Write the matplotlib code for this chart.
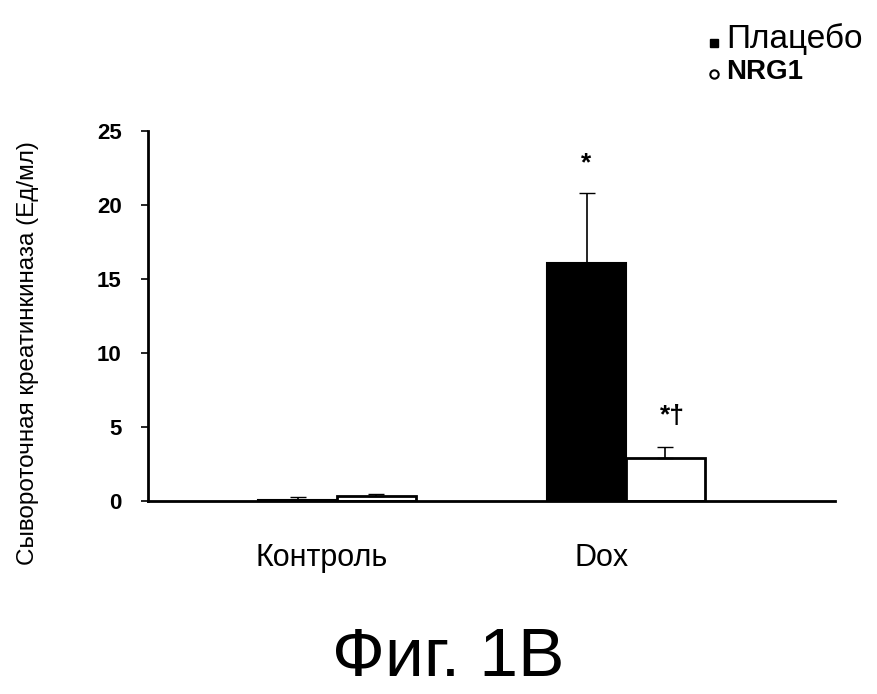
import matplotlib.pyplot as plt
import numpy as np

plt.rcParams['font.family'] = ['Liberation Sans', 'DejaVu Sans']

groups = ["Контроль", "Dox"]
series = ["Плацебо", "NRG1"]
placebo = [0.1, 16.1]
placebo_err = [0.15, 4.7]
nrg1 = [0.35, 2.9]
nrg1_err = [0.15, 0.75]
marks = ["*", "*†"]

fig = plt.figure(figsize=(8.78, 6.94), dpi=100)
ax = fig.add_axes([0.1686, 0.278, 0.7824, 0.533])

x = np.arange(len(groups))
w = 0.273
ax.bar(x - w / 2, placebo, w, color='black', edgecolor='black', linewidth=1.5,
       yerr=[np.zeros(2), placebo_err], error_kw=dict(ecolor='black', elinewidth=1.2, capsize=6))
ax.bar(x + w / 2, nrg1, w, color='white', edgecolor='black', linewidth=2,
       yerr=[np.zeros(2), nrg1_err], error_kw=dict(ecolor='black', elinewidth=1.2, capsize=6))

# significance marks over Dox bars
ax.text(x[1] - w / 2, placebo[1] + placebo_err[1] + 2.0, marks[0], ha='center', va='center',
        fontsize=19, fontweight='bold')
ax.text(x[1] + w / 2 + 0.025, nrg1[1] + nrg1_err[1] + 2.1, marks[1], ha='center', va='center',
        fontsize=19, fontweight='bold')

ax.set_xlim(-0.654, 1.723)
ax.set_ylim(0, 25)
ax.set_yticks([0, 5, 10, 15, 20, 25])
ax.set_yticklabels(["0", "5", "10", "15", "20", "25"], fontsize=16, fontweight='bold')
ax.set_xticks(x + np.array([-0.055, -0.083]))
ax.set_xticklabels(groups, fontsize=22)
ax.tick_params(axis='x', length=0, pad=30)
ax.tick_params(axis='y', length=5, width=1.2, pad=14)
ax.spines['top'].set_visible(False)
ax.spines['right'].set_visible(False)
ax.spines['left'].set_linewidth(2)
ax.spines['bottom'].set_linewidth(2)

ax.set_ylabel("Сывороточная креатинкиназа (Ед/мл)", fontsize=17.5)
ax.yaxis.set_label_coords(-0.158, 0.4)

# legend
h1 = plt.Line2D([], [], marker='s', color='black', linestyle='none', markersize=6)
h2 = plt.Line2D([], [], marker='o', markerfacecolor='white', markeredgecolor='black',
                markeredgewidth=1.5, linestyle='none', markersize=6)
leg = fig.legend([h1, h2], series, loc='upper right', bbox_to_anchor=(0.997, 0.985),
                 frameon=False, handletextpad=0.4, labelspacing=0.3, handlelength=1.0)
leg.get_texts()[0].set_fontsize(24)
leg.get_texts()[1].set_fontsize(20)
leg.get_texts()[1].set_fontweight('bold')

fig.text(0.51, 0.052, "Фиг. 1B", ha='center', va='center', fontsize=50)

fig.savefig("out.png", dpi=100)
